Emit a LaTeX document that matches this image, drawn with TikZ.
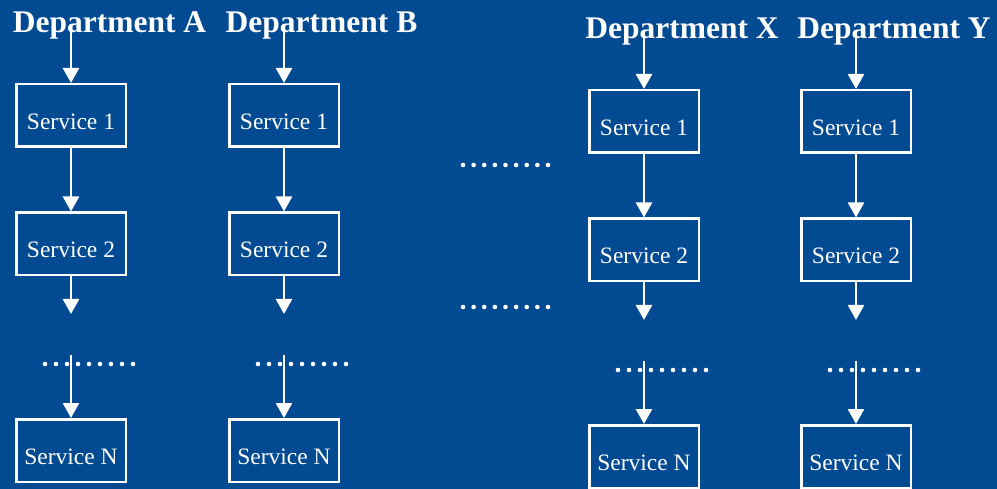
\documentclass[tikz,border=0pt]{standalone}
\usepackage{fontspec}
\setmainfont{Liberation Serif}
\usetikzlibrary{arrows.meta}
\definecolor{bgblue}{RGB}{2,74,145}
\begin{document}
\begin{tikzpicture}[x=1pt,y=-1pt,
  svc/.style={draw=white, line width=2.5pt, minimum width=109.5pt, minimum height=62.5pt, inner sep=0pt, text height=28pt, text depth=0pt, text=white, font=\fontsize{23.5}{27}\selectfont},
  dept/.style={text=white, font=\bfseries\fontsize{31.5}{36}\selectfont, anchor=base, inner sep=0pt},
  arr/.style={draw=white, line width=2.6pt, -{Triangle[width=16pt,length=15pt]}},
  dot/.style={fill=white}
]
\fill[bgblue] (0,0) rectangle (997,489);
\useasboundingbox (0,0) rectangle (997,489);
\foreach \n/\x/\tx/\dy/\lab in {a/71/109.5/0/A, b/284/321.5/0/B, x/644/682/6/X, y/856/894/6/Y}{
  \node[dept] (\n-title) at (\tx, 33+\dy) {Department \lab};
  \coordinate (\n-top) at (\x, 26+\dy);
  \node[svc] (\n-s1) at (\x, 115.5+\dy) {Service 1};
  \node[svc] (\n-s2) at (\x, 244+\dy) {Service 2};
  \coordinate (\n-stub) at (\x, 314+\dy);
  \coordinate (\n-mid) at (\x, 355+\dy);
  \node[svc] (\n-sN) at (\x, 450.5+\dy) {Service N};
  \foreach \k in {0,...,8}{
    \fill[dot] (\x-26+\k*11, 364+\dy) circle (2.3);
  }
  \draw[arr] (\n-top) -- (\n-s1);
  \draw[arr] (\n-s1) -- (\n-s2);
  \draw[arr] (\n-s2) -- (\n-stub);
  \draw[arr] (\n-mid) -- (\n-sN);
}
\foreach \k in {0,...,8}{
  \fill[dot] (463+\k*10.625, 165) circle (2.3);
  \fill[dot] (463+\k*10.625, 307) circle (2.3);
}
\end{tikzpicture}
\end{document}
